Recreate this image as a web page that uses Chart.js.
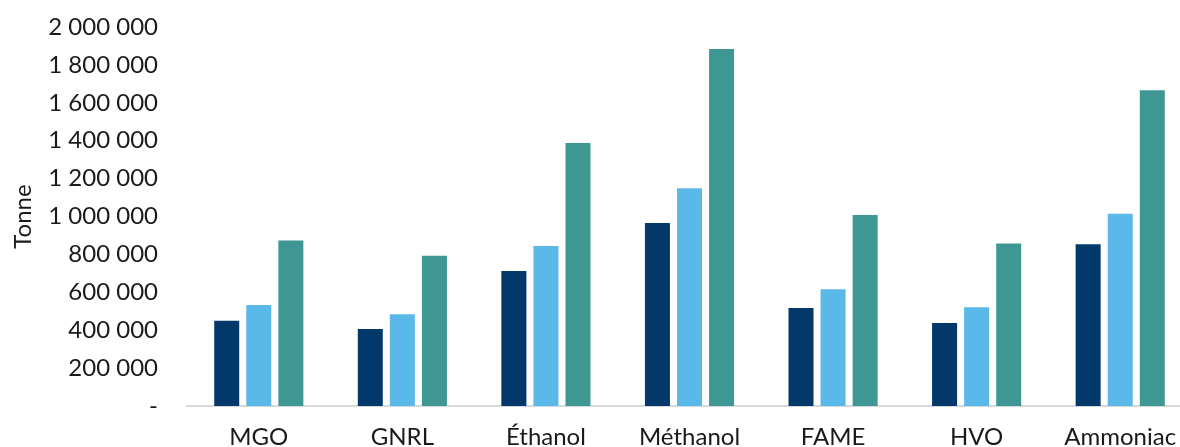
<!DOCTYPE html>
<html>
<head>
<meta charset="utf-8">
<script src="https://cdn.jsdelivr.net/npm/chart.js@4/dist/chart.umd.min.js"></script>
<style>
  html, body { margin: 0; padding: 0; background: #ffffff; overflow: hidden; }
  #wrap { position: absolute; left: 0; top: 0; width: 1192px; height: 458px; }
</style>
</head>
<body>
<div id="wrap"><canvas id="c"></canvas></div>
<script>
// Fuel categories
const categories = ['MGO', 'GNRL', 'Éthanol', 'Méthanol', 'FAME', 'HVO', 'Ammoniac'];

// Three series of tonnage per fuel
const seriesA = [450000, 406000, 712000, 966000, 517000, 438000, 853000];
const seriesB = [533000, 484000, 844000, 1149000, 616000, 521000, 1015000];
const seriesC = [874000, 793000, 1388000, 1884000, 1008000, 857000, 1666000];

// Y axis ticks
const yTicks = [0, 200000, 400000, 600000, 800000, 1000000, 1200000, 1400000, 1600000, 1800000, 2000000];
const yMax = 2000000;
const yTitle = 'Tonne';

const colors = ['#02396a', '#5bb9e9', '#3f9793'];
const FONT = 'Lato, "Open Sans", sans-serif';

function fmt(v) {
  if (v === 0) return '-';
  return String(v).replace(/\B(?=(\d{3})+(?!\d))/g, ' ');
}

const mk = (data, i) => ({
  data: data,
  backgroundColor: colors[i],
  borderWidth: 0,
  categoryPercentage: 0.67,
  barPercentage: 0.78
});

new Chart(document.getElementById('c'), {
  type: 'bar',
  data: {
    labels: categories,
    datasets: [mk(seriesA, 0), mk(seriesB, 1), mk(seriesC, 2)]
  },
  options: {
    responsive: true,
    maintainAspectRatio: false,
    animation: false,
    layout: { padding: { top: 27, right: 0, bottom: 0, left: 0 } },
    plugins: { legend: { display: false }, tooltip: { enabled: false } },
    scales: {
      x: {
        grid: { display: false, drawTicks: false },
        border: { display: true, color: '#d9d9d9', width: 2 },
        ticks: { color: '#1a1a1a', padding: 17, font: { family: FONT, size: 24 }, maxRotation: 0 },
        afterFit: (s) => { s.height = 458 - 406; s.paddingLeft = 0; s.paddingRight = 0; }
      },
      y: {
        min: 0,
        max: yMax,
        afterBuildTicks: (s) => { s.ticks = yTicks.map(v => ({ value: v })); },
        grid: { display: false, drawTicks: false },
        border: { display: false },
        ticks: {
          color: '#1a1a1a',
          padding: 29,
          font: { family: FONT, size: 24 },
          callback: (v) => fmt(v)
        },
        title: {
          display: true,
          text: yTitle,
          color: '#1a1a1a',
          font: { family: FONT, size: 24 },
          padding: { top: 9, bottom: 0 }
        },
        afterFit: (s) => { s.width = 187; s.paddingTop = 0; s.paddingBottom = 0; }
      }
    }
  }
});
</script>
</body>
</html>
